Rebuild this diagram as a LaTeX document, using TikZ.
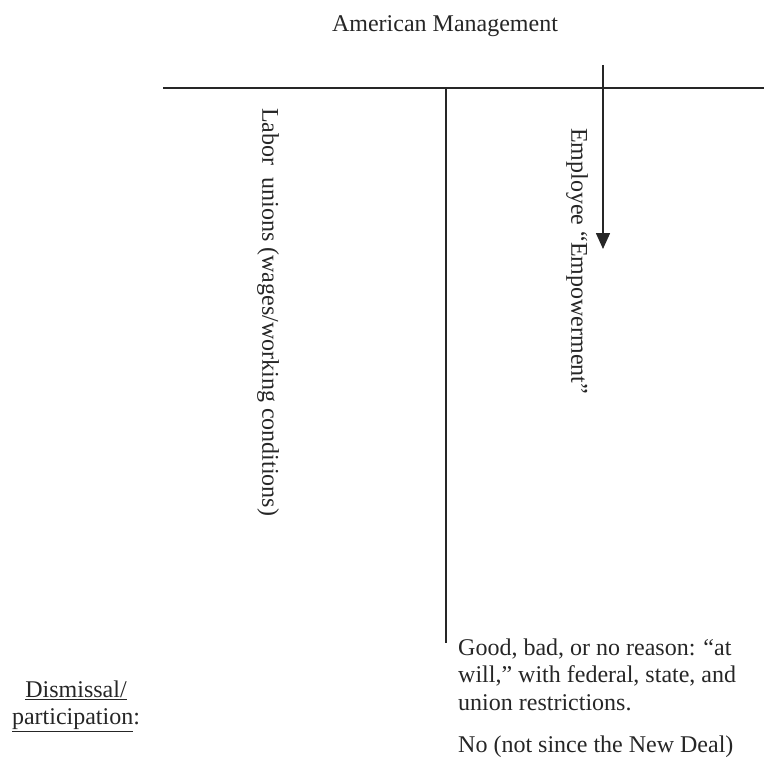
\documentclass[tikz,border=0pt]{standalone}
\usepackage{fontspec}
\setmainfont{Liberation Serif}
\usetikzlibrary{arrows.meta}
\begin{document}
\begin{tikzpicture}[x=1pt,y=-1pt,
  rule/.style={line width=1.6pt,draw=black!85},
  lbl/.style={font=\fontsize{24}{27.5}\selectfont,text=black!85,inner sep=0pt},
  vlbl/.style={lbl,rotate=-90,anchor=west}]
\useasboundingbox (0,0) rectangle (764,760);
% title
\node[lbl,anchor=base] (title) at (445,32) {American Management};
% frame lines
\coordinate (hl) at (163,88);
\coordinate (hr) at (764,88);
\coordinate (vt) at (446,88);
\coordinate (vb) at (446,643);
\draw[rule] (hl) -- (hr);
\draw[rule] (vt) -- (vb);
% arrow
\coordinate (at) at (603,65);
\coordinate (ab) at (603,249);
\draw[rule,-{Triangle[width=14pt,length=16pt]}] (at) -- (ab);
% column headings
\node[vlbl] (labor) at (268,108) {Labor\ \ unions (wages/working conditions)};
\node[vlbl] (empl) at (577,128) {Employee ``Empowerment''};
% row heading
\node[lbl,align=center,anchor=north] (dism) at (76,680.5) {\underline{Dismissal/}\\\underline{participation}:};
% cell texts
\node[lbl,align=left,anchor=north west] (cell1) at (458,638.5) {Good, bad, or no reason: ``at\\will,'' with federal, state, and\\union restrictions.};
\node[lbl,anchor=base west] (cell2) at (458,752) {No (not since the New Deal)};
\end{tikzpicture}
\end{document}
